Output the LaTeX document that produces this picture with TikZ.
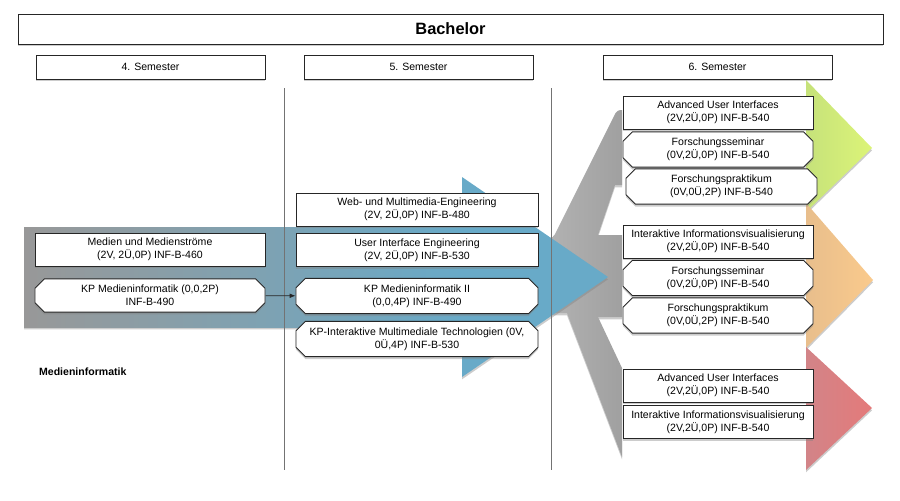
\documentclass[tikz,border=0pt]{standalone}
\usepackage{fontspec}
\setmainfont{Liberation Sans}
\usetikzlibrary{shapes.misc,shadows,arrows.meta}

\definecolor{arrowgray}{RGB}{152,152,152}
\definecolor{arrowblue}{RGB}{104,170,200}
\definecolor{forkl}{RGB}{180,180,180}
\definecolor{forkr}{RGB}{160,160,160}
\definecolor{greenl}{RGB}{198,226,122}
\definecolor{greenr}{RGB}{220,244,120}
\definecolor{orangel}{RGB}{232,190,140}
\definecolor{oranger}{RGB}{250,202,140}
\definecolor{redl}{RGB}{210,132,136}
\definecolor{redr}{RGB}{228,122,122}

\begin{document}
\begin{tikzpicture}[x=0.03cm,y=-0.03cm,
  shadowed/.style={drop shadow={opacity=0.4,shadow xshift=0pt,shadow yshift=-2pt}},
  course/.style={draw=black!85,line width=0.8pt,fill=white,shadowed,align=center,
    inner sep=1pt,minimum height=0.99cm,font=\fontsize{9}{10.8}\selectfont},
  kp/.style={course,chamfered rectangle,chamfered rectangle xsep=3.5pt,chamfered rectangle ysep=4.5pt},
  semester/.style={draw=black!85,line width=0.8pt,fill=white,shadowed,
    minimum width=6.87cm,minimum height=0.72cm,font=\fontsize{9}{10.8}\selectfont}]
\useasboundingbox (0,0) rectangle (900,500);

\path[shadowed,left color=forkl,right color=forkr,rounded corners=3pt]
  (540,238) -- (553,238) -- (617,110) [sharp corners] -- (622,110) -- (622,185) -- (615,185)
  -- (598,235) -- (622,235) -- (622,317) -- (598,317) -- (622,368) -- (622,457)
  -- (567,313) -- (540,313) -- cycle;

\path[shadowed,fill=arrowblue] (24,227) -- (462,227) -- (462,177) -- (608,277)
  -- (462,377) -- (462,327) -- (24,327) -- cycle;
\shade[left color=arrowgray,right color=arrowblue] (24,227) rectangle (462,327);

\path[shadowed,left color=greenl,right color=greenr] (806,80) -- (872,148) -- (806,212) -- cycle;
\path[shadowed,left color=orangel,right color=oranger] (806,203) -- (873,280) -- (806,348) -- cycle;
\path[shadowed,left color=redl,right color=redr] (806,347) -- (872,408) -- (806,470) -- cycle;

\draw[black!55,line width=0.5pt] (284,88) -- (284,470);
\draw[black!55,line width=0.5pt] (551,88) -- (551,470);

\node[draw=black!85,line width=0.8pt,fill=white,shadowed,minimum width=25.95cm,
  minimum height=0.9cm,font=\fontsize{14}{16}\selectfont\bfseries] (bachelor) at (450.5,29) {Bachelor};
\node[semester] (sem4) at (150.5,67) {4. Semester};
\node[semester] (sem5) at (418.5,67) {5. Semester};
\node[semester] (sem6) at (717.5,67) {6. Semester};

\node[course,minimum width=6.9cm] (medien) at (150,249.5) {Medien und Medienströme\\(2V, 2Ü,0P) INF-B-460};
\node[kp,minimum width=6.9cm] (kpmi) at (150,295.5) {KP Medieninformatik (0,0,2P)\\INF-B-490};

\node[course,minimum width=7.26cm] (web) at (417,209.5) {Web- und Multimedia-Engineering\\(2V, 2Ü,0P) INF-B-480};
\node[course,minimum width=7.26cm] (uie) at (417,250) {User Interface Engineering\\(2V, 2Ü,0P) INF-B-530};
\node[kp,minimum width=7.26cm] (kpmi2) at (417,296) {KP Medieninformatik II\\(0,0,4P) INF-B-490};
\node[kp,minimum width=7.26cm,minimum height=0.96cm] (kpimt) at (417,339) {KP-Interaktive Multimediale Technologien (0V,\\0Ü,4P) INF-B-530};

\node[course,minimum width=5.7cm] (aui1) at (718,112.5) {Advanced User Interfaces\\(2V,2Ü,0P) INF-B-540};
\node[kp,minimum width=5.7cm] (fs1) at (718,149.5) {Forschungsseminar\\(0V,2Ü,0P) INF-B-540};
\node[kp,minimum width=5.73cm] (fp1) at (721.5,186.5) {Forschungspraktikum\\(0V,0Ü,2P) INF-B-540};
\node[course,minimum width=5.7cm] (iiv1) at (718,241.5) {Interaktive Informationsvisualisierung\\(2V,2Ü,0P) INF-B-540};
\node[kp,minimum width=5.7cm] (fs2) at (718,278) {Forschungsseminar\\(0V,2Ü,0P) INF-B-540};
\node[kp,minimum width=5.7cm] (fp2) at (718,315.5) {Forschungspraktikum\\(0V,0Ü,2P) INF-B-540};
\node[course,minimum width=5.7cm] (aui2) at (718,385.5) {Advanced User Interfaces\\(2V,2Ü,0P) INF-B-540};
\node[course,minimum width=5.7cm] (iiv2) at (718,422) {Interaktive Informationsvisualisierung\\(2V,2Ü,0P) INF-B-540};

\node[anchor=west,font=\fontsize{9}{10.8}\selectfont\bfseries] (mi) at (35,372) {Medieninformatik};

\draw[black!85,line width=0.7pt,-{Latex[length=5pt,width=4pt]}] (kpmi) -- (kpmi2);
\end{tikzpicture}
\end{document}
